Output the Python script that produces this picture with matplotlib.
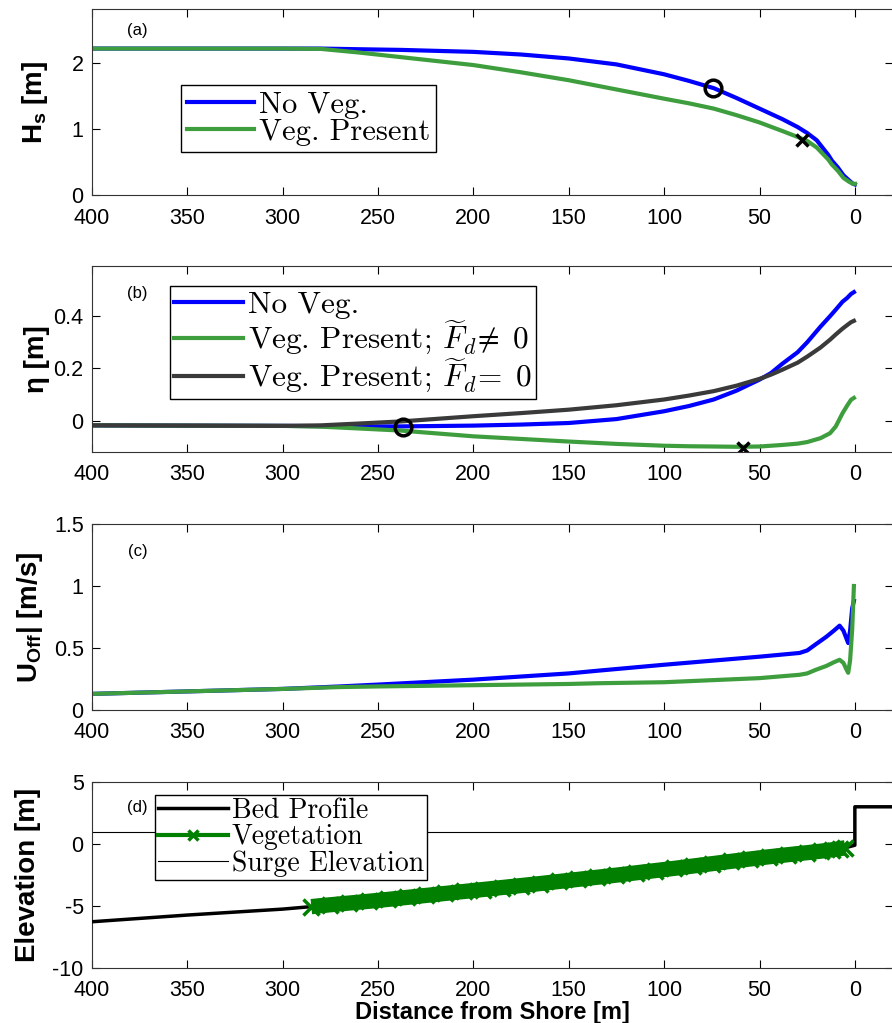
import matplotlib
matplotlib.use("Agg")
import matplotlib.pyplot as plt
from matplotlib.font_manager import FontProperties
from matplotlib.lines import Line2D

# ---------------- data ----------------
x_hs = [400, 350, 300, 280, 260, 238, 200, 175, 150, 125, 100, 87, 74, 62, 50, 38, 30, 25, 20, 17, 14, 12, 9, 6, 3, 1, 0]
hs_noveg = [2.22, 2.22, 2.22, 2.22, 2.21, 2.20, 2.17, 2.13, 2.07, 1.98, 1.83, 1.73, 1.62, 1.47, 1.31, 1.15, 1.03, 0.94, 0.83, 0.72, 0.61, 0.52, 0.42, 0.30, 0.22, 0.17, 0.16]
hs_veg = [2.22, 2.22, 2.22, 2.215, 2.16, 2.09, 1.97, 1.86, 1.74, 1.60, 1.46, 1.39, 1.31, 1.21, 1.10, 0.97, 0.88, 0.82, 0.72, 0.63, 0.54, 0.46, 0.37, 0.26, 0.20, 0.17, 0.17]
hs_circle = (74.5, 1.62)
hs_cross = (27.5, 0.84)

x_eta = [400, 350, 300, 280, 260, 238, 200, 175, 150, 125, 100, 87, 74, 62, 50, 44, 38, 30, 25, 18, 13, 10, 6.5, 4, 2, 0.5]
eta_noveg = [-0.018, -0.019, -0.020, -0.021, -0.022, -0.022, -0.019, -0.015, -0.009, 0.006, 0.036, 0.056, 0.081, 0.115, 0.157, 0.182, 0.218, 0.262, 0.30, 0.36, 0.40, 0.425, 0.455, 0.47, 0.485, 0.492]
eta_veg = [-0.018, -0.019, -0.020, -0.023, -0.030, -0.038, -0.060, -0.070, -0.080, -0.089, -0.096, -0.098, -0.099, -0.100, -0.099, -0.096, -0.093, -0.088, -0.082, -0.067, -0.048, -0.022, 0.028, 0.058, 0.080, 0.087]
eta_veg0 = [-0.018, -0.019, -0.020, -0.018, -0.011, -0.003, 0.017, 0.029, 0.042, 0.059, 0.081, 0.096, 0.113, 0.134, 0.160, 0.176, 0.195, 0.222, 0.245, 0.28, 0.31, 0.33, 0.352, 0.366, 0.377, 0.382]
eta_circle = (237, -0.024)
eta_cross = (58.5, -0.104)

x_u = [400, 350, 300, 270, 250, 200, 150, 134, 100, 50, 29, 25, 20.5, 15, 11, 8, 6, 4.5, 3.5, 2.5, 1.4, 0.5]
u_noveg = [0.13, 0.15, 0.17, 0.19, 0.205, 0.245, 0.295, 0.318, 0.365, 0.43, 0.46, 0.48, 0.53, 0.59, 0.64, 0.68, 0.64, 0.58, 0.54, 0.64, 0.82, 0.88]
u_veg = [0.13, 0.15, 0.17, 0.185, 0.19, 0.20, 0.21, 0.216, 0.224, 0.257, 0.284, 0.295, 0.324, 0.355, 0.385, 0.405, 0.38, 0.33, 0.30, 0.40, 0.65, 1.00]

x_bed = [400, 350, 300, 285, 250, 200, 150, 100, 50, 25, 10, 5, 2, 0, 0, -20]
z_bed = [-6.27, -5.73, -5.25, -5.05, -4.51, -3.70, -2.92, -2.08, -1.16, -0.73, -0.42, -0.30, -0.18, -0.10, 3.0, 3.0]
x_veg = [285, 275, 265, 255, 245, 235, 225, 215, 205, 195, 185, 175, 165, 155, 145, 135, 125, 115, 105, 95, 85, 75, 65, 55, 45, 35, 25, 18, 12, 8, 5]
z_veg = [-5.05, -4.90, -4.76, -4.62, -4.47, -4.31, -4.15, -3.99, -3.83, -3.67, -3.51, -3.35, -3.19, -3.02, -2.85, -2.68, -2.51, -2.33, -2.15, -1.97, -1.78, -1.59, -1.40, -1.21, -1.03, -0.86, -0.70, -0.58, -0.47, -0.38, -0.30]
x_surge = [400, 0]
z_surge = [1.0, 1.0]

xticks = [400, 350, 300, 250, 200, 150, 100, 50, 0]

# ---------------- style ----------------
plt.rcParams['font.family'] = ['Liberation Sans', 'DejaVu Sans']
plt.rcParams['mathtext.fontset'] = 'custom'
plt.rcParams['mathtext.rm'] = 'Liberation Sans:bold'
plt.rcParams['mathtext.bf'] = 'Liberation Sans:bold'
plt.rcParams['mathtext.it'] = 'Liberation Sans:italic'
plt.rcParams['axes.unicode_minus'] = False

BLUE = '#0000ff'
GREEN = '#3e9e3e'
GRAY = '#3a3a3a'
DKGREEN = '#007f00'

tick_fs = 15.5
ylab_font = dict(family=['Liberation Sans', 'DejaVu Sans'], fontweight='bold', fontsize=20)
xlab_font = dict(family=['Liberation Sans', 'DejaVu Sans'], fontweight='bold', fontsize=17)

fig = plt.figure(figsize=(8.92, 10.23), dpi=100)
L = 92 / 892
W = (893 - 92) / 892
bottoms = [1 - 195 / 1023, 1 - 452 / 1023, 1 - 710 / 1023, 1 - 968 / 1023]
H = 186 / 1023
axes = [fig.add_axes([L, b, W, H]) for b in bottoms]

def leg_prop(size):
    return FontProperties(family='cmr10', size=size, math_fontfamily='cm')

leg_common = dict(loc='upper left', borderaxespad=0, fancybox=False, edgecolor='k',
                  framealpha=1, handletextpad=0.15, labelspacing=0.0)

for ax in axes:
    ax.set_xlim(400, -20)
    ax.set_xticks(xticks)
    ax.set_xticklabels([str(t) for t in xticks])
    ax.tick_params(direction='in', top=True, right=True, length=6, width=0.8,
                   labelsize=tick_fs)
    ax.tick_params(axis='x', pad=9)
    ax.tick_params(axis='y', pad=6)
    for s in ax.spines.values():
        s.set_linewidth(0.8)
        s.set_color('#333333')

# (a)
ax = axes[0]
ax.plot(x_hs, hs_noveg, color=BLUE, lw=3, label='No Veg.')
ax.plot(x_hs, hs_veg, color=GREEN, lw=3, label='Veg. Present')
ax.plot(*hs_circle, 'o', mfc='none', mec='k', mew=2.5, ms=12)
ax.plot(*hs_cross, 'x', color='k', mew=2.5, ms=9)
ax.set_ylim(0, 2.82)
ax.set_yticks([0, 1, 2])
ax.set_ylabel(r'H$_\mathbf{s}$ [m]', **ylab_font)
ax.yaxis.set_label_coords(-0.052, 0.5)
ax.text(0.057, 0.887, '(a)', transform=ax.transAxes, fontsize=12, ha='center', va='center')
ax.legend(bbox_to_anchor=(0.111, 0.591), prop=leg_prop(22),
          handlelength=2.2, borderpad=0.2, **leg_common)

# (b)
ax = axes[1]
ax.plot(x_eta, eta_noveg, color=BLUE, lw=3, label='No Veg.')
ax.plot(x_eta, eta_veg, color=GREEN, lw=3,
        label=r'Veg. Present; $\widetilde{F}_d\!\neq\;0$')
ax.plot(x_eta, eta_veg0, color=GRAY, lw=3,
        label=r'Veg. Present; $\widetilde{F}_d\!=\;0$')
ax.plot(*eta_circle, 'o', mfc='none', mec='k', mew=2.5, ms=12)
ax.plot(*eta_cross, 'x', color='k', mew=2.5, ms=9)
ax.set_ylim(-0.12, 0.592)
ax.set_yticks([0, 0.2, 0.4])
ax.set_yticklabels(['0', '0.2', '0.4'])
ax.set_ylabel('η [m]', **ylab_font)
ax.yaxis.set_label_coords(-0.052, 0.5)
ax.text(0.057, 0.85, '(b)', transform=ax.transAxes, fontsize=12, ha='center', va='center')
ax.legend(bbox_to_anchor=(0.097, 0.892), prop=leg_prop(22.5),
          handlelength=2.2, borderpad=0.15, **leg_common)

# (c)
ax = axes[2]
ax.plot(x_u, u_noveg, color=BLUE, lw=3)
ax.plot(x_u, u_veg, color=GREEN, lw=3)
ax.set_ylim(0, 1.5)
ax.set_yticks([0, 0.5, 1, 1.5])
ax.set_yticklabels(['0', '0.5', '1', '1.5'])
ax.set_ylabel(r'U$_\mathbf{Off}$| [m/s]', **ylab_font)
ax.yaxis.set_label_coords(-0.059, 0.5)
ax.text(0.057, 0.85, '(c)', transform=ax.transAxes, fontsize=12, ha='center', va='center')

# (d)
ax = axes[3]
ax.plot(x_surge, z_surge, color='k', lw=0.8, zorder=2)
ax.plot(x_bed, z_bed, color='k', lw=2.5, zorder=3)
ax.plot(x_veg, z_veg, color=DKGREEN, lw=11, marker='x', ms=11, mew=2.5, zorder=4,
        solid_capstyle='butt')
ax.set_ylim(-10, 5)
ax.set_yticks([-10, -5, 0, 5])
ax.set_yticklabels(['-10', '-5', '0', '5'])
ax.set_ylabel('Elevation [m]', **ylab_font)
ax.yaxis.set_label_coords(-0.064, 0.5)
ax.set_xlabel('Distance from Shore [m]', **xlab_font)
ax.xaxis.labelpad = 0
ax.text(0.057, 0.865, '(d)', transform=ax.transAxes, fontsize=12, ha='center', va='center')
handles = [Line2D([], [], color='k', lw=2.5),
           Line2D([], [], color=DKGREEN, lw=3, marker='x', ms=7, mew=2.5),
           Line2D([], [], color='k', lw=0.8)]
ax.legend(handles, ['Bed Profile', 'Vegetation', 'Surge Elevation'],
          bbox_to_anchor=(0.079, 0.93), prop=leg_prop(20),
          handlelength=2.5, borderpad=0.1, **leg_common)
ax.set_xlim(400, -20)

fig.savefig('out.png', dpi=100)
